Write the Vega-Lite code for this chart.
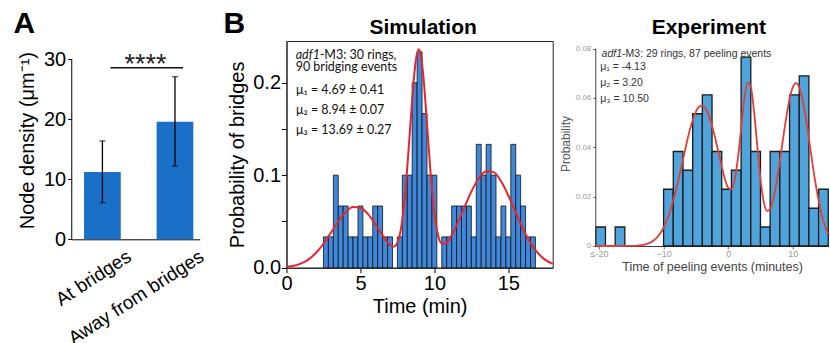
{
  "$schema": "https://vega.github.io/schema/vega-lite/v6.json",
  "padding": {"left": 12.7, "top": 8, "right": 0, "bottom": 0},
  "bounds": "flush",
  "spacing": 86.8,
  "datasets": {
    "density": [
      {"location": "At bridges", "mean": 11.2, "lo": 6.1, "hi": 16.4},
      {"location": "Away from bridges", "mean": 19.6, "lo": 12.2, "hi": 27.1}
    ],
    "sim_bins": [
      {"start": 2.5, "end": 2.833, "prob": 0.0333},
      {"start": 2.833, "end": 3.167, "prob": 0.0333},
      {"start": 3.167, "end": 3.5, "prob": 0.1},
      {"start": 3.5, "end": 3.833, "prob": 0.0667},
      {"start": 3.833, "end": 4.167, "prob": 0.0667},
      {"start": 4.167, "end": 4.5, "prob": 0.0333},
      {"start": 4.5, "end": 4.833, "prob": 0.0333},
      {"start": 4.833, "end": 5.167, "prob": 0.0667},
      {"start": 5.167, "end": 5.5, "prob": 0.0333},
      {"start": 5.5, "end": 5.833, "prob": 0.0333},
      {"start": 5.833, "end": 6.167, "prob": 0.0667},
      {"start": 6.167, "end": 6.5, "prob": 0.0667},
      {"start": 6.5, "end": 6.833, "prob": 0.0333},
      {"start": 6.833, "end": 7.167, "prob": 0.0333},
      {"start": 7.5, "end": 7.833, "prob": 0.0333},
      {"start": 7.833, "end": 8.167, "prob": 0.1},
      {"start": 8.167, "end": 8.5, "prob": 0.1},
      {"start": 8.5, "end": 8.833, "prob": 0.2},
      {"start": 8.833, "end": 9.167, "prob": 0.2333},
      {"start": 9.167, "end": 9.5, "prob": 0.1667},
      {"start": 9.5, "end": 9.833, "prob": 0.1},
      {"start": 9.833, "end": 10.167, "prob": 0.1},
      {"start": 10.5, "end": 10.833, "prob": 0.0333},
      {"start": 10.833, "end": 11.167, "prob": 0.0333},
      {"start": 11.167, "end": 11.5, "prob": 0.0667},
      {"start": 11.5, "end": 11.833, "prob": 0.0667},
      {"start": 11.833, "end": 12.167, "prob": 0.0667},
      {"start": 12.167, "end": 12.5, "prob": 0.0667},
      {"start": 12.5, "end": 12.833, "prob": 0.0333},
      {"start": 12.833, "end": 13.167, "prob": 0.1333},
      {"start": 13.167, "end": 13.5, "prob": 0.1},
      {"start": 13.5, "end": 13.833, "prob": 0.1333},
      {"start": 13.833, "end": 14.167, "prob": 0.1},
      {"start": 14.167, "end": 14.5, "prob": 0.0333},
      {"start": 14.5, "end": 14.833, "prob": 0.0667},
      {"start": 14.833, "end": 15.167, "prob": 0.0333},
      {"start": 15.167, "end": 15.5, "prob": 0.1333},
      {"start": 15.5, "end": 15.833, "prob": 0.1},
      {"start": 15.833, "end": 16.167, "prob": 0.0667},
      {"start": 16.167, "end": 16.5, "prob": 0.0333},
      {"start": 16.5, "end": 16.833, "prob": 0.0333}
    ],
    "sim_fit": [
      {"t": 0, "p": 0.0009}, {"t": 0.5, "p": 0.0021}, {"t": 1, "p": 0.0046}, {"t": 1.5, "p": 0.009},
      {"t": 2, "p": 0.0161}, {"t": 2.5, "p": 0.0259}, {"t": 3, "p": 0.0378}, {"t": 3.5, "p": 0.05},
      {"t": 4, "p": 0.0601}, {"t": 4.5, "p": 0.0655}, {"t": 5, "p": 0.0648}, {"t": 5.5, "p": 0.0581},
      {"t": 6, "p": 0.0472}, {"t": 6.5, "p": 0.0349}, {"t": 7, "p": 0.0245}, {"t": 7.25, "p": 0.0227},
      {"t": 7.5, "p": 0.0271}, {"t": 7.75, "p": 0.043}, {"t": 8, "p": 0.0762}, {"t": 8.25, "p": 0.126},
      {"t": 8.5, "p": 0.182}, {"t": 8.75, "p": 0.2247}, {"t": 8.94, "p": 0.236}, {"t": 9.1, "p": 0.2285},
      {"t": 9.25, "p": 0.2077}, {"t": 9.5, "p": 0.1558}, {"t": 9.75, "p": 0.1009}, {"t": 10, "p": 0.0592},
      {"t": 10.25, "p": 0.035}, {"t": 10.5, "p": 0.0259}, {"t": 10.75, "p": 0.0261}, {"t": 11, "p": 0.0306},
      {"t": 11.5, "p": 0.0458}, {"t": 12, "p": 0.0641}, {"t": 12.5, "p": 0.0822}, {"t": 13, "p": 0.0967},
      {"t": 13.5, "p": 0.1043}, {"t": 14, "p": 0.1033}, {"t": 14.5, "p": 0.0937}, {"t": 15, "p": 0.078},
      {"t": 15.5, "p": 0.0596}, {"t": 16, "p": 0.0417}, {"t": 16.5, "p": 0.0268}, {"t": 17, "p": 0.0158},
      {"t": 17.5, "p": 0.0085}, {"t": 18, "p": 0.0042}
    ],
    "exp_bins": [
      {"start": -20.5, "end": -19, "prob": 0.0077},
      {"start": -17.5, "end": -16, "prob": 0.0077},
      {"start": -10, "end": -8.5, "prob": 0.023},
      {"start": -8.5, "end": -7, "prob": 0.0383},
      {"start": -7, "end": -5.5, "prob": 0.0307},
      {"start": -5.5, "end": -4, "prob": 0.0536},
      {"start": -4, "end": -2.5, "prob": 0.0613},
      {"start": -2.5, "end": -1, "prob": 0.0383},
      {"start": -1, "end": 0.5, "prob": 0.023},
      {"start": 0.5, "end": 2, "prob": 0.0307},
      {"start": 2, "end": 3.5, "prob": 0.0766},
      {"start": 3.5, "end": 5, "prob": 0.0383},
      {"start": 5, "end": 6.5, "prob": 0.0077},
      {"start": 6.5, "end": 8, "prob": 0.0383},
      {"start": 8, "end": 9.5, "prob": 0.0383},
      {"start": 9.5, "end": 11, "prob": 0.0613},
      {"start": 11, "end": 12.5, "prob": 0.069},
      {"start": 12.5, "end": 14, "prob": 0.0153},
      {"start": 14, "end": 15.5, "prob": 0.023}
    ],
    "exp_fit": [
      {"t": -20.5, "p": 0}, {"t": -19, "p": 0}, {"t": -18, "p": 0}, {"t": -17, "p": 0}, {"t": -16, "p": 0.00001},
      {"t": -15, "p": 0.00005}, {"t": -14, "p": 0.00018}, {"t": -13, "p": 0.00054}, {"t": -12, "p": 0.00147},
      {"t": -11, "p": 0.00349}, {"t": -10, "p": 0.0074}, {"t": -9, "p": 0.014}, {"t": -8, "p": 0.0235},
      {"t": -7, "p": 0.035}, {"t": -6, "p": 0.0464}, {"t": -5, "p": 0.0545}, {"t": -4.5, "p": 0.0565},
      {"t": -4, "p": 0.0569}, {"t": -3.5, "p": 0.0557}, {"t": -3, "p": 0.0529}, {"t": -2.5, "p": 0.0487},
      {"t": -2, "p": 0.0436}, {"t": -1.5, "p": 0.038}, {"t": -1, "p": 0.0322}, {"t": -0.5, "p": 0.0271},
      {"t": 0, "p": 0.0236}, {"t": 0.5, "p": 0.023}, {"t": 1, "p": 0.0268}, {"t": 1.5, "p": 0.0354},
      {"t": 2, "p": 0.0476}, {"t": 2.5, "p": 0.0595}, {"t": 3, "p": 0.0662}, {"t": 3.5, "p": 0.0645},
      {"t": 4, "p": 0.0546}, {"t": 4.5, "p": 0.0407}, {"t": 5, "p": 0.0272}, {"t": 5.5, "p": 0.018},
      {"t": 6, "p": 0.0142}, {"t": 6.5, "p": 0.0149}, {"t": 7, "p": 0.0192}, {"t": 7.5, "p": 0.026},
      {"t": 8, "p": 0.0345}, {"t": 8.5, "p": 0.0435}, {"t": 9, "p": 0.0522}, {"t": 9.5, "p": 0.0595},
      {"t": 10, "p": 0.0643}, {"t": 10.5, "p": 0.066}, {"t": 11, "p": 0.0643}, {"t": 11.5, "p": 0.0595},
      {"t": 12, "p": 0.0522}, {"t": 12.5, "p": 0.0435}, {"t": 13, "p": 0.0344}, {"t": 13.5, "p": 0.0258},
      {"t": 14, "p": 0.0184}, {"t": 14.5, "p": 0.0125}, {"t": 15, "p": 0.008}, {"t": 15.5, "p": 0.0049}
    ]
  },
  "hconcat": [
    {
      "width": 128,
      "height": 198.3,
      "layer": [
        {
          "data": {"name": "density"},
          "mark": {"type": "bar", "color": "#1a6fc6"},
          "encoding": {
            "x": {"field": "location", "type": "nominal", "sort": null,
              "scale": {"paddingInner": 0.494, "paddingOuter": 0.129, "align": 0.66},
              "axis": {"title": null, "labelAngle": -33, "labelAlign": "right", "labelBaseline": "middle", "labelFontSize": 19, "labelOffset": 27, "labelPadding": 15, "ticks": false, "domainColor": "#000", "labelColor": "#000"}},
            "y": {"field": "mean", "type": "quantitative",
              "scale": {"domain": [0, 33.05], "nice": false},
              "axis": {"values": [0, 10, 20, 30], "title": "Node density (μm⁻¹)", "titleFontSize": 20, "labelFontSize": 20, "domain": false, "tickSize": 4, "tickColor": "#000", "labelColor": "#000", "titleColor": "#000", "labelPadding": 2, "titlePadding": 6}}
          }
        },
        {
          "data": {"name": "density"},
          "mark": {"type": "rule", "color": "#000", "strokeWidth": 1.3},
          "encoding": {
            "x": {"field": "location", "type": "nominal", "sort": null},
            "y": {"field": "lo", "type": "quantitative"},
            "y2": {"field": "hi"}
          }
        },
        {
          "data": {"name": "density"},
          "mark": {"type": "tick", "color": "#000", "size": 6, "thickness": 1.2},
          "encoding": {
            "x": {"field": "location", "type": "nominal", "sort": null},
            "y": {"field": "lo", "type": "quantitative"}
          }
        },
        {
          "data": {"name": "density"},
          "mark": {"type": "tick", "color": "#000", "size": 6, "thickness": 1.2},
          "encoding": {
            "x": {"field": "location", "type": "nominal", "sort": null},
            "y": {"field": "hi", "type": "quantitative"}
          }
        },
        {
          "data": {"values": [{}]},
          "mark": {"type": "rule", "color": "#000", "strokeWidth": 1},
          "encoding": {
            "x": {"datum": "At bridges", "bandPosition": -0.335},
            "y": {"datum": 0},
            "y2": {"datum": 30}
          }
        },
        {
          "data": {"values": [{}]},
          "mark": {"type": "rule", "color": "#111", "strokeWidth": 1.6},
          "encoding": {
            "x": {"datum": "At bridges", "bandPosition": 0.72},
            "x2": {"datum": "Away from bridges", "bandPosition": 0.72},
            "y": {"datum": 28.6}
          }
        },
        {
          "data": {"values": [{}]},
          "mark": {"type": "text", "text": "****", "fontSize": 27, "color": "#222", "baseline": "alphabetic", "align": "center", "dx": 43},
          "encoding": {
            "x": {"datum": "At bridges"},
            "y": {"datum": 27.65}
          }
        },
        {
          "data": {"values": [{}]},
          "mark": {"type": "text", "text": "A", "fontSize": 30, "fontWeight": "bold", "color": "#000", "baseline": "alphabetic", "align": "left", "dx": -70.6, "dy": -8.3},
          "encoding": {
            "x": {"datum": "At bridges", "bandPosition": 0},
            "y": {"datum": 33.05}
          }
        }
      ]
    },
    {
      "bounds": "flush",
      "spacing": 42.3,
      "hconcat": [
        {
          "width": 266.2,
          "height": 226.7,
          "view": {"stroke": "#222", "strokeWidth": 1},
          "layer": [
            {
              "data": {"name": "sim_bins"},
              "mark": {"type": "bar", "fill": "#3f88dc", "stroke": "#111", "strokeWidth": 0.8},
              "encoding": {
                "x": {"field": "start", "type": "quantitative",
                  "scale": {"domain": [0, 18], "nice": false, "zero": false},
                  "axis": {"values": [0, 5, 10, 15], "title": "Time (min)", "titleFontSize": 20, "labelFontSize": 20, "tickSize": 5, "tickColor": "#000", "domainColor": "#222", "labelColor": "#000", "titleColor": "#000", "labelPadding": 1, "titlePadding": 3}},
                "x2": {"field": "end"},
                "y": {"field": "prob", "type": "quantitative",
                  "scale": {"domain": [0, 0.245], "nice": false},
                  "axis": {"values": [0, 0.05, 0.1, 0.15, 0.2], "labelExpr": "round(datum.value * 100) % 10 == 0 ? format(datum.value, '.1f') : ''", "title": "Probability of bridges", "titleFontSize": 20, "labelFontSize": 20, "tickSize": 5, "tickColor": "#000", "domainColor": "#222", "labelColor": "#000", "titleColor": "#000", "labelPadding": 1, "titlePadding": 5}},
                "y2": {"datum": 0}
              }
            },
            {
              "data": {"name": "sim_fit"},
              "mark": {"type": "line", "color": "#e8252a", "strokeWidth": 2, "interpolate": "monotone"},
              "encoding": {
                "x": {"field": "t", "type": "quantitative"},
                "y": {"field": "p", "type": "quantitative"}
              }
            },
            {
              "data": {"values": [{}]},
              "mark": {"type": "text", "text": "B", "fontSize": 30, "fontWeight": "bold", "align": "left", "baseline": "alphabetic", "color": "#000", "dx": -63.1, "dy": -8.3},
              "encoding": {"x": {"datum": 0}, "y": {"datum": 0.245}}
            },
            {
              "data": {"values": [{}]},
              "mark": {"type": "text", "text": "Simulation", "fontSize": 21, "fontWeight": "bold", "align": "center", "baseline": "alphabetic", "color": "#000", "dy": -7},
              "encoding": {"x": {"datum": 9.24}, "y": {"datum": 0.245}}
            },
            {
              "data": {"values": [{}]},
              "mark": {"type": "text", "text": "adf1", "fontStyle": "italic", "font": "Liberation Sans Narrow, Lato, sans-serif", "fontSize": 12.5, "align": "left", "baseline": "middle", "color": "#111"},
              "encoding": {"x": {"datum": 0.62}, "y": {"datum": 0.2303}}
            },
            {
              "data": {"values": [{}]},
              "mark": {"type": "text", "text": "-M3: 30 rings,", "font": "Liberation Sans Narrow, Lato, sans-serif", "fontSize": 12.5, "align": "left", "baseline": "middle", "color": "#111", "dx": 24},
              "encoding": {"x": {"datum": 0.62}, "y": {"datum": 0.2303}}
            },
            {
              "data": {"values": [{}]},
              "mark": {"type": "text", "text": "90 bridging events", "font": "Liberation Sans Narrow, Lato, sans-serif", "fontSize": 12.5, "align": "left", "baseline": "middle", "color": "#111"},
              "encoding": {"x": {"datum": 0.62}, "y": {"datum": 0.217}}
            },
            {
              "data": {"values": [{}]},
              "mark": {"type": "text", "text": "μ₁ = 4.69 ± 0.41", "font": "Liberation Sans Narrow, Lato, sans-serif", "fontSize": 12.5, "align": "left", "baseline": "middle", "color": "#111"},
              "encoding": {"x": {"datum": 0.65}, "y": {"datum": 0.1923}}
            },
            {
              "data": {"values": [{}]},
              "mark": {"type": "text", "text": "μ₂ = 8.94 ± 0.07", "font": "Liberation Sans Narrow, Lato, sans-serif", "fontSize": 12.5, "align": "left", "baseline": "middle", "color": "#111"},
              "encoding": {"x": {"datum": 0.65}, "y": {"datum": 0.1708}}
            },
            {
              "data": {"values": [{}]},
              "mark": {"type": "text", "text": "μ₃ = 13.69 ± 0.27", "font": "Liberation Sans Narrow, Lato, sans-serif", "fontSize": 12.5, "align": "left", "baseline": "middle", "color": "#111"},
              "encoding": {"x": {"datum": 0.65}, "y": {"datum": 0.1491}}
            }
          ]
        },
        {
          "width": 232.5,
          "height": 205,
          "layer": [
            {
              "data": {"name": "exp_bins"},
              "mark": {"type": "bar", "fill": "#4fa4dc", "stroke": "#1b1b1b", "strokeWidth": 1.3},
              "encoding": {
                "x": {"field": "start", "type": "quantitative",
                  "scale": {"domain": [-20.5, 15.5], "nice": false, "zero": false},
                  "axis": {"values": [-20, -15, -10, -5, 0, 5, 10, 15], "labelExpr": "datum.value == -20 ? '≤-20' : datum.label", "title": "Time of peeling events (minutes)", "titleFontSize": 12.5, "labelFontSize": 9, "tickSize": 3, "tickColor": "#666", "domainColor": "#333", "labelColor": "#999", "titleColor": "#444", "labelPadding": 1, "titlePadding": 2}},
                "x2": {"field": "end"},
                "y": {"field": "prob", "type": "quantitative",
                  "scale": {"domain": [0, 0.0831], "nice": false},
                  "axis": {"values": [0, 0.02, 0.04, 0.06, 0.08], "labelExpr": "datum.value == 0 ? '0' : format(datum.value, '.2f')", "title": "Probability", "titleFontSize": 12, "labelFontSize": 8, "domain": false, "tickSize": 3, "tickColor": "#666", "labelColor": "#999", "titleColor": "#555", "labelPadding": 2, "titlePadding": 3}},
                "y2": {"datum": 0}
              }
            },
            {
              "data": {"values": [{}]},
              "mark": {"type": "rule", "color": "#444", "strokeWidth": 1},
              "encoding": {"x": {"datum": -20.5}, "y": {"datum": 0}, "y2": {"datum": 0.08}}
            },
            {
              "data": {"name": "exp_fit"},
              "mark": {"type": "line", "color": "#e0403a", "strokeWidth": 1.8, "interpolate": "monotone"},
              "encoding": {
                "x": {"field": "t", "type": "quantitative"},
                "y": {"field": "p", "type": "quantitative"}
              }
            },
            {
              "data": {"values": [{}]},
              "mark": {"type": "text", "text": "Experiment", "fontSize": 21, "fontWeight": "bold", "align": "center", "baseline": "alphabetic", "color": "#000", "dy": -6.7},
              "encoding": {"x": {"datum": -3}, "y": {"datum": 0.0831}}
            },
            {
              "data": {"values": [{}]},
              "mark": {"type": "text", "text": "adf1", "fontStyle": "italic", "fontSize": 10.5, "align": "left", "baseline": "middle", "color": "#333"},
              "encoding": {"x": {"datum": -19.6}, "y": {"datum": 0.0777}}
            },
            {
              "data": {"values": [{}]},
              "mark": {"type": "text", "text": "-M3: 29 rings, 87 peeling events", "fontSize": 10.5, "align": "left", "baseline": "middle", "color": "#333", "dx": 20.5},
              "encoding": {"x": {"datum": -19.6}, "y": {"datum": 0.0777}}
            },
            {
              "data": {"values": [{}]},
              "mark": {"type": "text", "text": "μ₁ = -4.13", "fontSize": 10.5, "align": "left", "baseline": "middle", "color": "#333"},
              "encoding": {"x": {"datum": -19.8}, "y": {"datum": 0.0726}}
            },
            {
              "data": {"values": [{}]},
              "mark": {"type": "text", "text": "μ₂ = 3.20", "fontSize": 10.5, "align": "left", "baseline": "middle", "color": "#333"},
              "encoding": {"x": {"datum": -19.8}, "y": {"datum": 0.0662}}
            },
            {
              "data": {"values": [{}]},
              "mark": {"type": "text", "text": "μ₃ = 10.50", "fontSize": 10.5, "align": "left", "baseline": "middle", "color": "#333"},
              "encoding": {"x": {"datum": -19.8}, "y": {"datum": 0.0597}}
            }
          ]
        }
      ]
    }
  ],
  "config": {
    "view": {"stroke": null},
    "font": "Liberation Sans",
    "axis": {"labelFlush": false, "grid": false, "titleFontWeight": "normal"}
  }
}
